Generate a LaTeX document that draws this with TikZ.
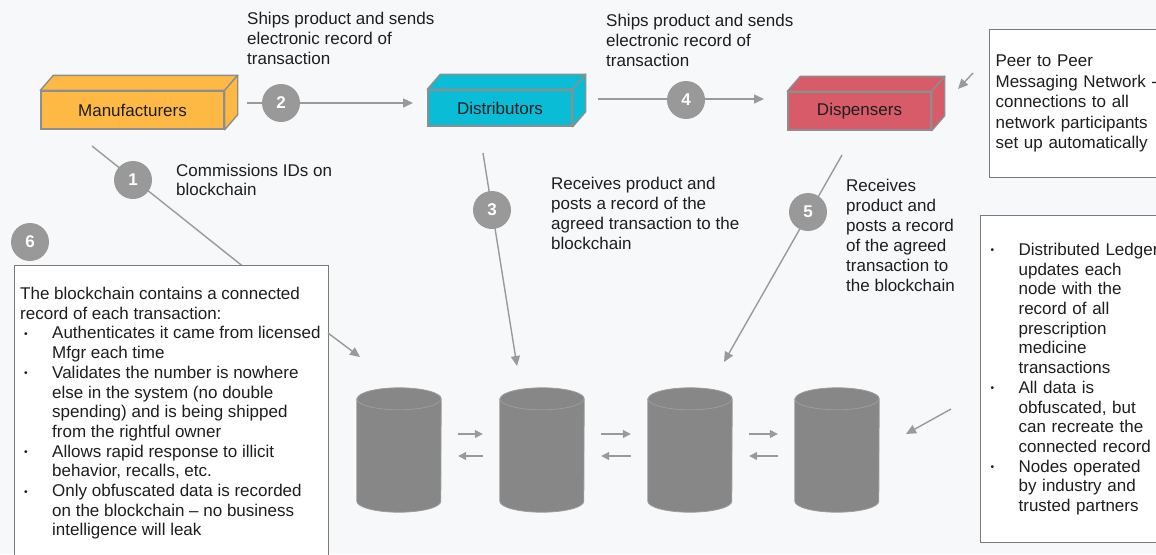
\documentclass[tikz,border=0pt]{standalone}
\usepackage{fontspec}
\setmainfont{Liberation Sans}
\usetikzlibrary{arrows.meta}

\definecolor{bg}{HTML}{F7F8FA}
\definecolor{manuorange}{HTML}{FDB944}
\definecolor{distcyan}{HTML}{0ABCD6}
\definecolor{disppink}{HTML}{D85B6A}
\definecolor{linegray}{HTML}{9A9A9A}
\definecolor{numgray}{HTML}{999999}
\definecolor{dbgray}{HTML}{878787}
\definecolor{dbedge}{HTML}{9C9C9C}
\definecolor{edgegray}{HTML}{8E8E8E}
\definecolor{panelgray}{HTML}{7A7A7A}
\definecolor{ink}{HTML}{1E1E1E}

\newcommand{\bul}{\makebox[32pt][l]{\hspace{4pt}\raisebox{1.5pt}{\scalebox{0.6}{•}}}}
\newcommand{\ind}{\hspace*{32pt}}

\begin{document}
\begin{tikzpicture}[x=1pt, y=-1pt,
    every node/.style={font=\fontsize{17}{19.7}\selectfont, text=ink, inner sep=0},
    flow/.style={draw=linegray, line width=1.4pt, -{Triangle[length=10pt,width=9pt]}},
    plain/.style={draw=linegray, line width=1.4pt},
    num/.style={circle, fill=numgray, minimum size=38pt, text=white,
        font=\fontsize{17}{17}\selectfont\bfseries},
    face/.style={rectangle, draw=edgegray, line width=1.4pt},
    panel/.style={draw=panelgray, fill=white, line width=1.2pt},
    dbbox/.style={rectangle, minimum width=84pt, minimum height=124pt}]

    \fill[bg] (0,0) rectangle (1156,554);
    \useasboundingbox (0,0) rectangle (1156,554);

    \node[face, fill=manuorange, minimum width=183pt, minimum height=38pt] (manu) at (132.5,110) {Manufacturers};
    \node[face, fill=distcyan, minimum width=144pt, minimum height=36pt] (dist) at (500,108) {Distributors};
    \node[face, fill=disppink, minimum width=143pt, minimum height=38pt] (disp) at (859.5,111) {Dispensers};

    \foreach \n/\c in {manu/manuorange, dist/distcyan, disp/disppink} {
        \draw[draw=edgegray, line width=1.4pt, fill=\c, line join=round]
            (\n.north west) -- ([shift={(13,-15)}]\n.north west) -- ([shift={(13,-15)}]\n.north east)
            -- (\n.north east) -- cycle;
        \draw[draw=edgegray, line width=1.4pt, fill=\c, line join=round]
            (\n.north east) -- ([shift={(13,-15)}]\n.north east) -- ([shift={(13,-15)}]\n.south east)
            -- (\n.south east) -- cycle;
    }

    \coordinate (s1) at (92,146);
    \coordinate (e1) at (250,272);
    \coordinate (s2) at (247,103);
    \coordinate (e2) at (413,103);
    \coordinate (s3) at (483,153);
    \coordinate (e3) at (517,366);
    \coordinate (s4) at (598,99);
    \coordinate (e4) at (764,99);
    \coordinate (s5) at (842,155);
    \coordinate (e5) at (724,362);

    \draw[plain] (s1) -- (e1);
    \draw[flow] (s2) -- (e2);
    \draw[flow] (s3) -- (e3);
    \draw[flow] (s4) -- (e4);
    \draw[flow] (s5) -- (e5);

    \node[num] (n1) at (133,180) {1};
    \node[num] (n2) at (281,103) {2};
    \node[num] (n3) at (492,210) {3};
    \node[num] (n4) at (686,100) {4};
    \node[num] (n5) at (808,212) {5};
    \node[num] (n6) at (30,242) {6};

    \node[anchor=west, align=left, font=\fontsize{17}{20}\selectfont] (ship1) at (247,38)
        {Ships product and sends\\electronic record of\\transaction};
    \node[anchor=west, align=left, font=\fontsize{17}{20}\selectfont] (ship2) at (606,40)
        {Ships product and sends\\electronic record of\\transaction};
    \node[anchor=west, align=left, font=\fontsize{17}{19}\selectfont] (comm) at (176,180)
        {Commissions IDs on\\blockchain};
    \node[anchor=west, align=left, font=\fontsize{17}{20}\selectfont] (recv1) at (551,213)
        {Receives product and\\posts a record of the\\agreed transaction to the\\blockchain};
    \node[anchor=west, align=left, font=\fontsize{17}{20}\selectfont] (recv2) at (846,235)
        {Receives\\product and\\posts a record\\of the agreed\\transaction to\\the blockchain};

    \node[panel, anchor=north west, minimum width=314pt, minimum height=300pt] (chain) at (14,265) {};
    \node[anchor=north west, align=left] (chaintext) at (20,287)
        {The blockchain contains a connected\\record of each transaction:\\
         \bul Authenticates it came from licensed\\\ind Mfgr each time\\
         \bul Validates the number is nowhere\\\ind else in the system (no double\\
         \ind spending) and is being shipped\\\ind from the rightful owner\\
         \bul Allows rapid response to illicit\\\ind behavior, recalls, etc.\\
         \bul Only obfuscated data is recorded\\\ind on the blockchain -- no business\\
         \ind intelligence will leak};

    \node[panel, anchor=north west, minimum height=148pt, inner xsep=6pt, text width=200pt,
        align=left, font=\fontsize{17}{20.5}\selectfont] (peer) at (989,29)
        {Peer to Peer\\Messaging Network -\\connections to all\\network participants\\set up automatically};

    \node[panel, anchor=north west, minimum height=327pt, inner xsep=6pt, text width=210pt,
        align=left] (ledger) at (980,215)
        {\bul Distributed Ledger\\\ind updates each\\\ind node with the\\\ind record of all\\
         \ind prescription\\\ind medicine\\\ind transactions\\
         \bul All data is\\\ind obfuscated, but\\\ind can recreate the\\\ind connected record\\
         \bul Nodes operated\\\ind by industry and\\\ind trusted partners};

    \node[dbbox] (db1) at (399,450) {};
    \node[dbbox] (db2) at (542,450) {};
    \node[dbbox] (db3) at (690,450) {};
    \node[dbbox] (db4) at (837,450) {};

    \foreach \n in {db1, db2, db3, db4} {
        \draw[draw=dbedge, line width=0.8pt, fill=dbgray]
            ([yshift=-11pt]\n.north west) -- ([yshift=11pt]\n.south west)
            arc[start angle=180, end angle=360, x radius=42pt, y radius=11pt]
            -- ([yshift=-11pt]\n.north east)
            arc[start angle=0, end angle=180, x radius=42pt, y radius=11pt] -- cycle;
        \draw[draw=dbedge, line width=0.8pt]
            ([yshift=-11pt]\n.north west) arc[start angle=180, end angle=360, x radius=42pt, y radius=11pt];
    }

    \foreach \a/\b in {db1/db2, db2/db3, db3/db4} {
        \draw[flow, line width=1.2pt, -{Triangle[length=8pt,width=8pt]}, shorten <=17pt, shorten >=17pt]
            ([yshift=16pt]\a.east) -- ([yshift=16pt]\b.west);
        \draw[flow, line width=1.2pt, -{Triangle[length=8pt,width=8pt]}, shorten <=17pt, shorten >=17pt]
            ([yshift=-6pt]\b.west) -- ([yshift=-6pt]\a.east);
    }

    \coordinate (s6) at (328,333);
    \coordinate (e6) at (360,357);
    \coordinate (sp) at (973,73);
    \coordinate (ep) at (958,89);
    \coordinate (sl) at (951,409);
    \coordinate (el) at (906,434);

    \draw[flow] (s6) -- (e6);
    \draw[flow] (sp) -- (ep);
    \draw[flow] (sl) -- (el);
\end{tikzpicture}
\end{document}
